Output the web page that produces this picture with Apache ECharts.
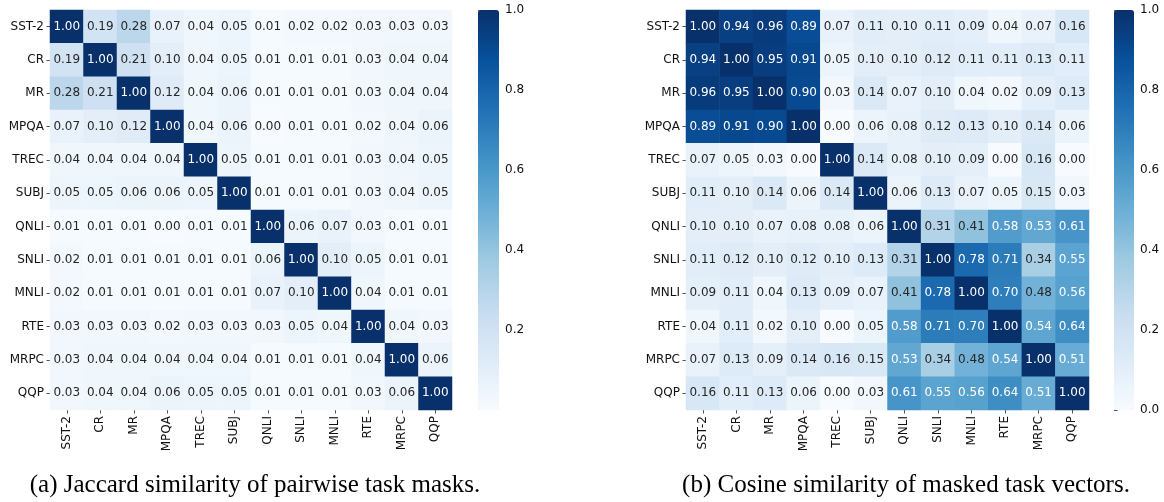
<!DOCTYPE html>
<html>
<head>
<meta charset="utf-8">
<script src="https://cdn.jsdelivr.net/npm/echarts@6/dist/echarts.min.js"></script>
<style>
  html, body { margin: 0; padding: 0; background: #ffffff; }
  #chart { width: 1164px; height: 502px; }
</style>
</head>
<body>
<div id="chart"></div>
<script>
// Task names, shared by both matrices (rows top to bottom, columns left to right)
const tasks = ['SST-2', 'CR', 'MR', 'MPQA', 'TREC', 'SUBJ', 'QNLI', 'SNLI', 'MNLI', 'RTE', 'MRPC', 'QQP'];

// (a) Jaccard similarity between pairwise task masks
const jaccard = [
  [1.00, 0.19, 0.28, 0.07, 0.04, 0.05, 0.01, 0.02, 0.02, 0.03, 0.03, 0.03],
  [0.19, 1.00, 0.21, 0.10, 0.04, 0.05, 0.01, 0.01, 0.01, 0.03, 0.04, 0.04],
  [0.28, 0.21, 1.00, 0.12, 0.04, 0.06, 0.01, 0.01, 0.01, 0.03, 0.04, 0.04],
  [0.07, 0.10, 0.12, 1.00, 0.04, 0.06, 0.00, 0.01, 0.01, 0.02, 0.04, 0.06],
  [0.04, 0.04, 0.04, 0.04, 1.00, 0.05, 0.01, 0.01, 0.01, 0.03, 0.04, 0.05],
  [0.05, 0.05, 0.06, 0.06, 0.05, 1.00, 0.01, 0.01, 0.01, 0.03, 0.04, 0.05],
  [0.01, 0.01, 0.01, 0.00, 0.01, 0.01, 1.00, 0.06, 0.07, 0.03, 0.01, 0.01],
  [0.02, 0.01, 0.01, 0.01, 0.01, 0.01, 0.06, 1.00, 0.10, 0.05, 0.01, 0.01],
  [0.02, 0.01, 0.01, 0.01, 0.01, 0.01, 0.07, 0.10, 1.00, 0.04, 0.01, 0.01],
  [0.03, 0.03, 0.03, 0.02, 0.03, 0.03, 0.03, 0.05, 0.04, 1.00, 0.04, 0.03],
  [0.03, 0.04, 0.04, 0.04, 0.04, 0.04, 0.01, 0.01, 0.01, 0.04, 1.00, 0.06],
  [0.03, 0.04, 0.04, 0.06, 0.05, 0.05, 0.01, 0.01, 0.01, 0.03, 0.06, 1.00]
];

// (b) Cosine similarity between masked task vectors
const cosine = [
  [1.00, 0.94, 0.96, 0.89, 0.07, 0.11, 0.10, 0.11, 0.09, 0.04, 0.07, 0.16],
  [0.94, 1.00, 0.95, 0.91, 0.05, 0.10, 0.10, 0.12, 0.11, 0.11, 0.13, 0.11],
  [0.96, 0.95, 1.00, 0.90, 0.03, 0.14, 0.07, 0.10, 0.04, 0.02, 0.09, 0.13],
  [0.89, 0.91, 0.90, 1.00, 0.00, 0.06, 0.08, 0.12, 0.13, 0.10, 0.14, 0.06],
  [0.07, 0.05, 0.03, 0.00, 1.00, 0.14, 0.08, 0.10, 0.09, 0.00, 0.16, 0.00],
  [0.11, 0.10, 0.14, 0.06, 0.14, 1.00, 0.06, 0.13, 0.07, 0.05, 0.15, 0.03],
  [0.10, 0.10, 0.07, 0.08, 0.08, 0.06, 1.00, 0.31, 0.41, 0.58, 0.53, 0.61],
  [0.11, 0.12, 0.10, 0.12, 0.10, 0.13, 0.31, 1.00, 0.78, 0.71, 0.34, 0.55],
  [0.09, 0.11, 0.04, 0.13, 0.09, 0.07, 0.41, 0.78, 1.00, 0.70, 0.48, 0.56],
  [0.04, 0.11, 0.02, 0.10, 0.00, 0.05, 0.58, 0.71, 0.70, 1.00, 0.54, 0.64],
  [0.07, 0.13, 0.09, 0.14, 0.16, 0.15, 0.53, 0.34, 0.48, 0.54, 1.00, 0.51],
  [0.16, 0.11, 0.13, 0.06, 0.00, 0.03, 0.61, 0.55, 0.56, 0.64, 0.51, 1.00]
];

// Colour bar tick values
const barTicksA = [0.2, 0.4, 0.6, 0.8, 1.0];
const barTicksB = [0.0, 0.2, 0.4, 0.6, 0.8, 1.0];

// Captions
const captionA = '(a) Jaccard similarity of pairwise task masks.';
const captionB = '(b) Cosine similarity of masked task vectors.';

// Sequential blue ramp
const blues = ['#f7fbff', '#deebf7', '#c6dbef', '#9ecae1', '#6baed6', '#4292c6', '#2171b5', '#08519c', '#08306b'];

const SANS = 'DejaVu Sans';
const INK = '#262626';

function cells(matrix) {
  const out = [];
  matrix.forEach((row, r) => {
    row.forEach((v, c) => {
      out.push({
        value: [c, r, v],
        label: { color: v >= 0.5 ? '#ffffff' : INK }
      });
    });
  });
  return out;
}

function catAxis(gridIndex, isX) {
  return {
    type: 'category',
    gridIndex: gridIndex,
    data: tasks,
    inverse: !isX,
    axisLine: { show: false },
    axisTick: { show: true, alignWithLabel: true, length: 3.5, lineStyle: { color: INK, width: 0.8 } },
    axisLabel: {
      fontFamily: SANS, fontSize: 12, color: '#111111',
      margin: 6, rotate: isX ? 90 : 0
    },
    splitLine: { show: false },
    splitArea: { show: false }
  };
}

function barAxis(gridIndex, ticks) {
  return {
    type: 'value',
    gridIndex: gridIndex,
    position: 'right',
    min: 0, max: 1,
    axisLine: { show: false },
    axisTick: { show: true, length: 3.5, customValues: ticks, lineStyle: { color: INK, width: 0.8 } },
    axisLabel: {
      fontFamily: SANS, fontSize: 12, color: '#111111', margin: 6,
      customValues: ticks,
      formatter: v => v.toFixed(1)
    },
    splitLine: { show: false }
  };
}

function hiddenValueAxis(gridIndex) {
  return { type: 'value', gridIndex: gridIndex, show: false, min: 0, max: 1 };
}

const captionStyle = { fontFamily: 'Liberation Serif', fontWeight: 'normal', fontSize: 25, color: '#000000' };

const option = {
  backgroundColor: '#ffffff',
  animation: false,
  title: [
    { text: captionA, left: 250, top: 468, textAlign: 'center', textStyle: captionStyle },
    { text: captionB, left: 901, top: 468, textAlign: 'center', textStyle: captionStyle }
  ],
  grid: [
    { left: 50, top: 10, width: 402, height: 400 },
    { left: 686, top: 10, width: 403, height: 400 },
    { left: 478, top: 10, width: 21, height: 400 },
    { left: 1114, top: 10, width: 20, height: 400 }
  ],
  xAxis: [catAxis(0, true), catAxis(1, true), hiddenValueAxis(2), hiddenValueAxis(3)],
  yAxis: [catAxis(0, false), catAxis(1, false), barAxis(2, barTicksA), barAxis(3, barTicksB)],
  visualMap: [
    {
      type: 'continuous', seriesIndex: 0, min: 0, max: 1,
      calculable: false, hoverLink: false, realtime: false,
      left: 478, top: 10, itemWidth: 21, itemHeight: 400, padding: 0,
      text: null, showLabel: false,
      inRange: { color: blues }
    },
    {
      type: 'continuous', seriesIndex: 1, min: 0, max: 1,
      calculable: false, hoverLink: false, realtime: false,
      left: 1114, top: 10, itemWidth: 20, itemHeight: 400, padding: 0,
      text: null, showLabel: false,
      inRange: { color: blues }
    }
  ],
  series: [
    {
      type: 'heatmap', xAxisIndex: 0, yAxisIndex: 0,
      data: cells(jaccard),
      label: { show: true, fontFamily: SANS, fontSize: 12, formatter: p => p.value[2].toFixed(2) },
      itemStyle: { borderWidth: 0 },
      emphasis: { disabled: true }
    },
    {
      type: 'heatmap', xAxisIndex: 1, yAxisIndex: 1,
      data: cells(cosine),
      label: { show: true, fontFamily: SANS, fontSize: 12, formatter: p => p.value[2].toFixed(2) },
      itemStyle: { borderWidth: 0 },
      emphasis: { disabled: true }
    },
    { type: 'line', xAxisIndex: 2, yAxisIndex: 2, data: [], silent: true },
    { type: 'line', xAxisIndex: 3, yAxisIndex: 3, data: [], silent: true }
  ]
};

const chart = echarts.init(document.getElementById('chart'), null, { renderer: 'canvas' });
chart.setOption(option);
</script>
</body>
</html>
